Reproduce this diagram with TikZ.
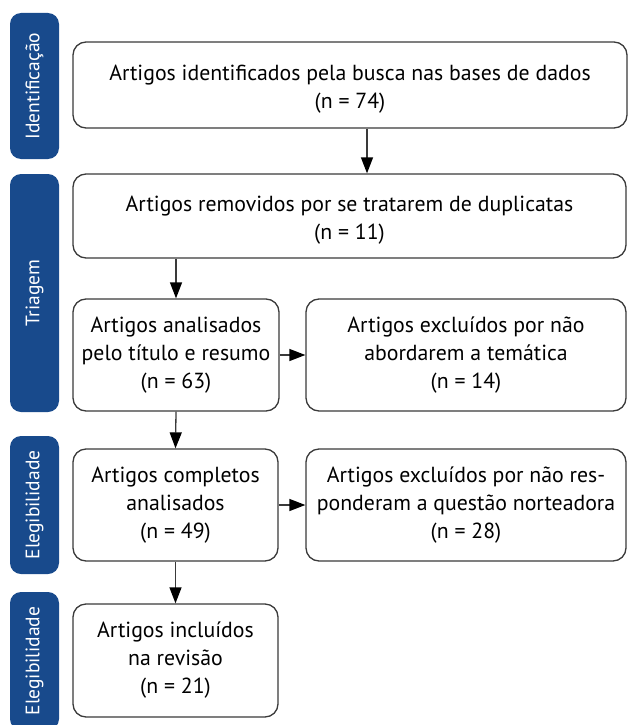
\documentclass[tikz,border=0pt]{standalone}
\usepackage{fontspec}
\setmainfont{PT Sans}
\usetikzlibrary{arrows.meta}
\definecolor{labelblue}{HTML}{184A8C}
\definecolor{boxline}{HTML}{3A3A3A}
\tikzset{
  stagebox/.style={draw=boxline, line width=1.3pt, rounded corners=13pt, fill=white,
    align=center, font=\fontsize{21.8}{28}\selectfont, inner sep=0pt},
  boxtext/.style={align=center, font=\fontsize{21.8}{28}\selectfont, inner sep=0pt},
  stagelabel/.style={fill=labelblue, rounded corners=11pt},
  labeltext/.style={text=white, rotate=90, font=\fontsize{19.5}{22}\selectfont},
  arr/.style={draw=boxline, line width=1.3pt, -{Triangle[length=16pt,width=12pt,color=black]}}
}
\begin{document}
\begin{tikzpicture}[x=1pt,y=-1pt]
\useasboundingbox (0,0) rectangle (628,725);
\begin{scope}
\clip (0,0) rectangle (628,725);
% stage labels
\fill[stagelabel] (10,13) rectangle (59,159);
\node[labeltext] (lid) at (34.5,86) {Identificação};
\fill[stagelabel] (10,174) rectangle (59,412);
\node[labeltext] (ltri) at (34.5,293) {Triagem};
\fill[stagelabel] (10,436) rectangle (59,574);
\node[labeltext] (lel1) at (34.5,505) {Elegibilidade};
\fill[stagelabel] (10,592) rectangle (59,730);
\node[labeltext] (lel2) at (34.5,661) {Elegibilidade};
\end{scope}
% boxes
\node[stagebox, minimum width=554pt, minimum height=86pt] (b1) at (350,85) {};
\node[boxtext] (t1) at (350,89)
  {Artigos identificados pela busca nas bases de dados\\(n = 74)};
\node[stagebox, minimum width=553pt, minimum height=84pt] (b2) at (349.5,216) {};
\node[boxtext] (t2) at (349.5,220.5)
  {Artigos removidos por se tratarem de duplicatas\\(n = 11)};
\node[stagebox, minimum width=206pt, minimum height=112pt] (b3) at (176,355)
  {Artigos analisados\\pelo título e resumo\\(n = 63)};
\node[stagebox, minimum width=320pt, minimum height=112pt] (b4) at (466,355)
  {Artigos excluídos por não\\abordarem a temática\\(n = 14)};
\node[stagebox, minimum width=205pt, minimum height=112pt] (b5) at (175.5,505)
  {Artigos completos\\analisados\\(n = 49)};
\node[stagebox, minimum width=320pt, minimum height=112pt] (b6) at (466,505)
  {Artigos excluídos por não res-\\ponderam a questão norteadora\\(n = 28)};
\node[stagebox, minimum width=205pt, minimum height=113pt] (b7) at (175.5,660.5)
  {Artigos incluídos\\na revisão\\(n = 21)};
% connectors
\draw[arr] ([xshift=17pt]b1.south) -- ([xshift=17.5pt]b2.north);
\draw[arr] (b3.north |- b2.south) -- (b3.north);
\draw[arr] (b3.east) -- (b4.west);
\draw[arr] (b3.south) -- (b5.north);
\draw[arr] (b5.east) -- (b6.west);
\draw[arr] (b5.south) -- (b7.north);
\end{tikzpicture}
\end{document}
